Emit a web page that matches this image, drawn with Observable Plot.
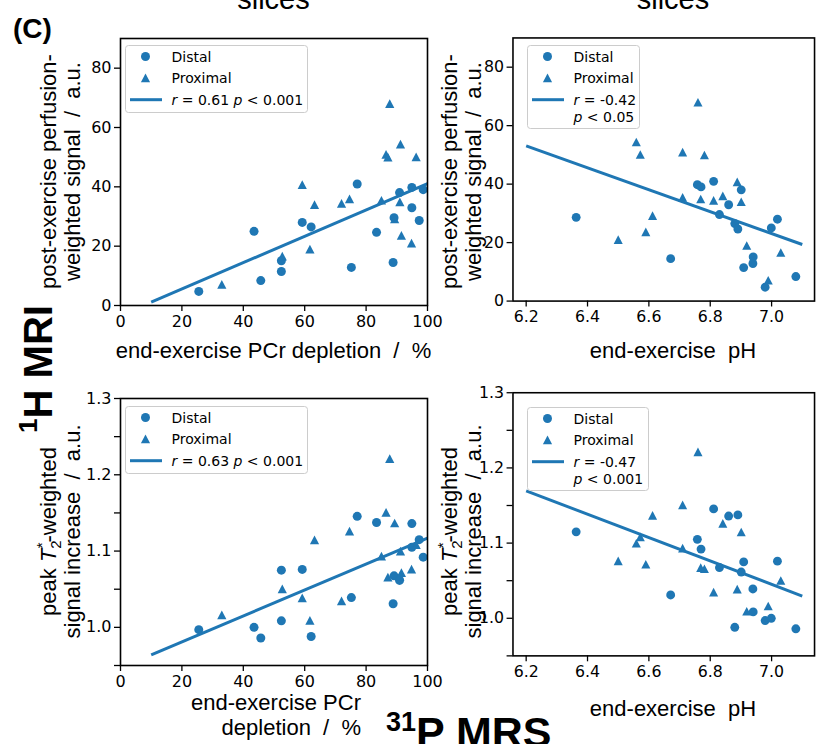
<!DOCTYPE html>
<html><head><meta charset="utf-8">
<script src="https://cdn.jsdelivr.net/npm/d3@7"></script>
<script src="https://cdn.jsdelivr.net/npm/@observablehq/plot@0.6"></script>
<style>
html,body{margin:0;padding:0;background:#fff;overflow:hidden}
#wrap{position:relative;width:818px;height:744px;overflow:hidden;background:#fff}
#wrap svg{position:absolute;left:0;top:0}
</style></head><body><div id="wrap"></div>
<script>
const BLUE = "#1f77b4";

// Distal slices (circles)
const distalPcr  = [25.5, 43.5, 45.7, 52.4, 52.4, 59.2, 62.1, 75.2, 77.1, 83.4, 88.8, 89.1, 90.9, 94.9, 94.9, 97.3, 98.6];
const distalPh   = [6.979, 6.999, 7.079, 6.940, 6.909, 7.019, 6.880, 6.939, 6.811, 6.890, 6.671, 6.830, 6.901, 6.758, 6.860, 6.363, 6.770];
const distalPerf = [4.75, 25.0, 8.4, 15.1, 11.45, 28.0, 26.5, 12.85, 40.95, 24.65, 14.5, 29.6, 38.05, 39.8, 32.95, 28.65, 39.05];
const distalT2   = [0.997, 1.000, 0.986, 1.0085, 1.075, 1.076, 0.988, 1.039, 1.1455, 1.1375, 1.031, 1.0675, 1.0615, 1.105, 1.136, 1.115, 1.092];

// Proximal slices (triangles)
const proximalPcr  = [33.0, 52.7, 59.2, 61.7, 63.2, 72.0, 74.6, 85.0, 86.5, 87.1, 87.7, 89.3, 91.0, 91.2, 91.5, 94.8, 96.3];
const proximalPh   = [6.989, 7.030, 6.888, 6.919, 6.901, 6.811, 6.841, 6.710, 6.710, 6.781, 6.760, 6.612, 6.769, 6.559, 6.590, 6.500, 6.572];
const proximalPerf = [7.05, 16.55, 40.7, 18.95, 33.9, 34.35, 35.9, 35.4, 50.85, 49.9, 67.95, 29.15, 34.85, 54.35, 23.6, 20.95, 50.05];
const proximalT2   = [1.016, 1.050, 1.0385, 1.009, 1.1145, 1.0345, 1.126, 1.093, 1.1505, 1.0655, 1.221, 1.1365, 1.067, 1.0995, 1.0715, 1.076, 1.108];

// regression lines (end points)
const fitPcr = [10, 100];
const fitPerfVsPcr = [1.1, 41.1];
const fitT2VsPcr = [0.964, 1.117];
const fitPh = [6.2, 7.1];
const fitPerfVsPh = [53.1, 19.35];
const fitT2VsPh = [1.1695, 1.0296];

// ticks
const pcrTicks = [0, 20, 40, 60, 80, 100];
const phTicks = [6.2, 6.4, 6.6, 6.8, 7.0];
const perfTicks = [0, 20, 40, 60, 80];
const t2Ticks = [1.0, 1.1, 1.2, 1.3];
const t2MinorTicks = [0.95, 1.05, 1.15, 1.25];

const legendLabels = {
  tl: ["0.61", "0.001"], tr: ["-0.42", "0.05"], bl: ["0.63", "0.001"], br: ["-0.47", "0.001"]
};

const rows = (pcr, ph, perf, t2) => pcr.map((d, i) => ({pcr: d, ph: ph[i], perf: perf[i], t2: t2[i]}));
const distal = rows(distalPcr, distalPh, distalPerf, distalT2);
const proximal = rows(proximalPcr, proximalPh, proximalPerf, proximalT2);
const fitRows = (xs, ys) => xs.map((x, i) => ({x, y: ys[i]}));

const mplTriangle = {
  draw(ctx, size) {
    const h = Math.sqrt(size / Math.PI);
    ctx.moveTo(0, -h); ctx.lineTo(h, h * 0.9); ctx.lineTo(-h, h * 0.9); ctx.closePath();
  }
};

function panel(o) {
  const H = 744;
  return Plot.plot({
    width: o.width, height: H,
    marginLeft: o.left, marginRight: o.width - o.right, marginTop: o.top, marginBottom: H - o.bottom,
    x: {domain: o.xDomain}, y: {domain: o.yDomain},
    style: {background: "transparent", fontFamily: "DejaVu Sans, sans-serif", fontSize: "16px", color: "#000", overflow: "visible"},
    marks: [
      Plot.axisX({ticks: o.xTicks, tickFormat: o.xFmt, tickSize: 6, tickPadding: 4, label: null, strokeWidth: 1.3}),
      Plot.axisY({ticks: o.yTicks, tickFormat: o.yFmt, tickSize: 6, tickPadding: 3, label: null, strokeWidth: 1.3}),
      o.yMinor ? Plot.axisY({ticks: o.yMinor, tickFormat: () => "", tickSize: 6, label: null, strokeWidth: 1.3}) : null,
      Plot.line(o.fit, {x: "x", y: "y", stroke: BLUE, strokeWidth: 3, strokeLinecap: "butt"}),
      Plot.dot(distal, {x: o.x, y: o.y, r: 4.5, fill: BLUE, symbol: "circle"}),
      Plot.dot(proximal, {x: o.x, y: o.y, r: 4.6, fill: BLUE, symbol: mplTriangle}),
      Plot.frame({stroke: "#000", strokeWidth: 1.6})
    ]
  });
}

const wrap = document.getElementById("wrap");
const f1 = d3.format(".1f");
wrap.append(panel({width: 818, left: 120, right: 427, top: 38, bottom: 305, x: "pcr", y: "perf",
  xDomain: [0, 100], yDomain: [0, 90], xTicks: pcrTicks, yTicks: perfTicks, fit: fitRows(fitPcr, fitPerfVsPcr)}));
wrap.append(panel({width: 830, left: 520, right: 826, top: 38, bottom: 305, x: "ph", y: "perf",
  xDomain: [6.157, 7.14], yDomain: [0, 90], xTicks: phTicks, xFmt: f1, yTicks: perfTicks, fit: fitRows(fitPh, fitPerfVsPh)}));
wrap.append(panel({width: 818, left: 120, right: 427, top: 398, bottom: 665, x: "pcr", y: "t2",
  xDomain: [0, 100], yDomain: [0.95, 1.3], xTicks: pcrTicks, yTicks: t2Ticks, yFmt: f1, yMinor: t2MinorTicks, fit: fitRows(fitPcr, fitT2VsPcr)}));
wrap.append(panel({width: 830, left: 520, right: 826, top: 398, bottom: 665, x: "ph", y: "t2",
  xDomain: [6.157, 7.14], yDomain: [0.95, 1.3], xTicks: phTicks, xFmt: f1, yTicks: t2Ticks, yFmt: f1, yMinor: t2MinorTicks, fit: fitRows(fitPh, fitT2VsPh)}));

// overlay: labels and legends
const ov = d3.select(wrap).append("svg").attr("width", 818).attr("height", 744)
  .style("font-family", "Liberation Sans, Arial, sans-serif");

function txt(x, y, s, size, opts = {}) {
  return ov.append("text").attr("x", x).attr("y", y).attr("font-size", size)
    .attr("text-anchor", opts.anchor || "middle").attr("font-weight", opts.bold ? "bold" : null)
    .attr("xml:space", "preserve").text(s);
}

txt(13, 38, "(C)", 28, {anchor: "start", bold: true});
txt(273.5, 9, "slices", 29);
txt(673, 9, "slices", 29);

// x labels
txt(273.5, 358, "end-exercise PCr depletion  /  %", 22);
txt(673, 358, "end-exercise  pH", 22);
txt(673, 716, "end-exercise  pH", 22);
txt(361, 710, "end-exercise PCr", 22, {anchor: "end"});
txt(361, 735, "depletion  /  %", 22, {anchor: "end"});

// y labels (rotated)
function ylab(xBase, yc, line1, line2, gap) {
  const g = ov.append("g").attr("transform", `translate(${xBase},${yc}) rotate(-90)`);
  const t1 = g.append("text").attr("x", 0).attr("y", 0).attr("font-size", 22).attr("text-anchor", "middle").attr("xml:space", "preserve");
  line1(t1);
  g.append("text").attr("x", 0).attr("y", gap).attr("font-size", 22).attr("text-anchor", "middle").attr("xml:space", "preserve").text(line2);
}
const perfLine1 = t => t.text("post-exercise perfusion-");
const t2Line1 = t => {
  t.append("tspan").text("peak ");
  t.append("tspan").attr("font-style", "italic").text("T");
  t.append("tspan").attr("font-size", 15).attr("dy", 5).text("2");
  t.append("tspan").attr("font-size", 15).attr("dx", -8).attr("dy", -14).text("*");
  t.append("tspan").attr("dy", 9).text("-weighted");
};
ylab(56, 171.5, perfLine1, "weighted signal  /  a.u.", 24);
ylab(457, 171.5, perfLine1, "weighted signal  /  a.u.", 24);
ylab(56, 531.5, t2Line1, "signal increase  /  a.u.", 24);
ylab(457, 531.5, t2Line1, "signal increase  /  a.u.", 24);

// big side labels
{
  const g = ov.append("g").attr("transform", "translate(52,369) rotate(-90)");
  const t = g.append("text").attr("font-size", 40).attr("font-weight", "bold").attr("text-anchor", "middle").attr("xml:space", "preserve");
  t.append("tspan").attr("font-size", 26).attr("dy", -15).text("1");
  t.append("tspan").attr("dy", 15).text("H MRI");
}
{
  const t = ov.append("text").attr("x", 386).attr("y", 747).attr("font-size", 43).attr("font-weight", "bold").attr("xml:space", "preserve");
  t.append("tspan").attr("font-size", 27).attr("dy", -16).text("31");
  t.append("tspan").attr("dy", 16).text("P MRS");
}

// legends
function legend(x, y, w, r, p, twoLine) {
  const g = ov.append("g").attr("transform", `translate(${x},${y})`).style("font-family", "DejaVu Sans, sans-serif");
  const h = twoLine ? 83 : 67;
  g.append("rect").attr("x", 0.5).attr("y", 0.5).attr("width", w).attr("height", h).attr("rx", 3)
    .attr("fill", "white").attr("fill-opacity", 0.8).attr("stroke", "#cccccc").attr("stroke-width", 1);
  const mx = 20.5, tx = 46.5, r1 = 11.5, dr = 21.6;
  g.append("circle").attr("cx", mx).attr("cy", r1).attr("r", 4.5).attr("fill", BLUE);
  const th = 4.6;
  g.append("path").attr("d", `M${mx},${r1 + dr - th}L${mx + th},${r1 + dr + th * 0.9}L${mx - th},${r1 + dr + th * 0.9}Z`).attr("fill", BLUE);
  g.append("line").attr("x1", 5).attr("x2", 37).attr("y1", r1 + 2 * dr).attr("y2", r1 + 2 * dr).attr("stroke", BLUE).attr("stroke-width", 3);
  const T = (yy) => g.append("text").attr("x", tx).attr("y", yy).attr("font-size", 14).attr("xml:space", "preserve");
  T(r1 + 5).text("Distal");
  T(r1 + dr + 5).text("Proximal");
  const t3 = T(r1 + 2 * dr + 5);
  t3.append("tspan").attr("font-style", "italic").text("r");
  t3.append("tspan").text(" = " + r);
  if (twoLine) {
    const t4 = T(r1 + 2 * dr + 5 + 16.8);
    t4.append("tspan").attr("font-style", "italic").text("p");
    t4.append("tspan").text(" < " + p);
  } else {
    t3.append("tspan").attr("font-style", "italic").text(" p");
    t3.append("tspan").text(" < " + p);
  }
}
legend(125, 45, 182, legendLabels.tl[0], legendLabels.tl[1], false);
legend(527, 45, 112, legendLabels.tr[0], legendLabels.tr[1], true);
legend(125, 406, 182, legendLabels.bl[0], legendLabels.bl[1], false);
legend(527, 407, 121, legendLabels.br[0], legendLabels.br[1], true);
</script></body></html>
